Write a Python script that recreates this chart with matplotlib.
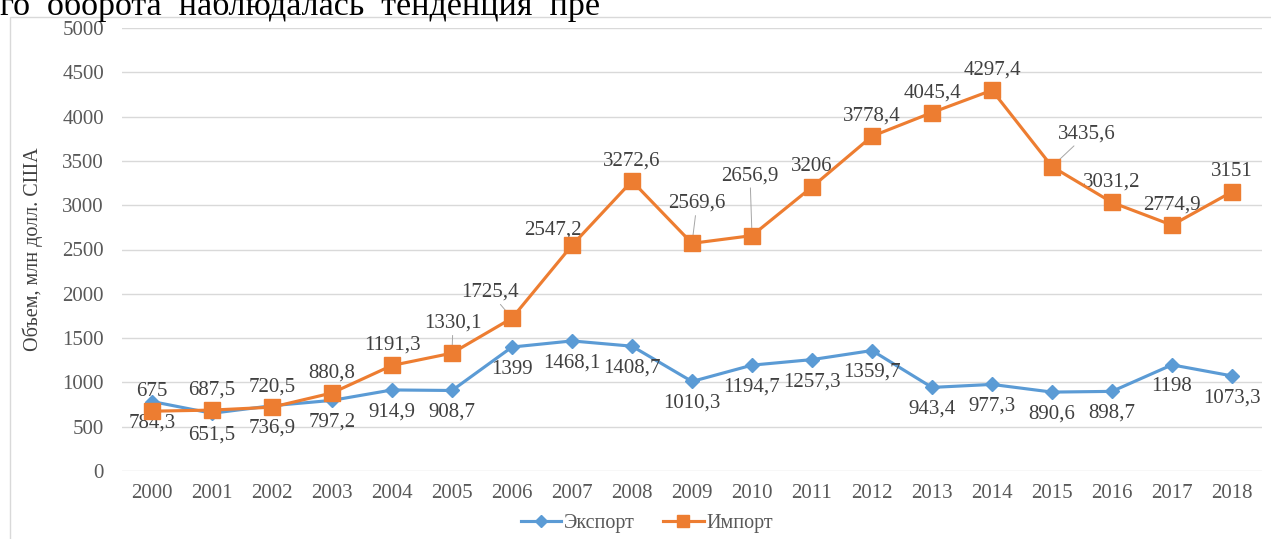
import matplotlib
matplotlib.use("Agg")
import matplotlib.pyplot as plt
from matplotlib.patches import Rectangle

plt.rcParams['font.family'] = ['Liberation Serif', 'DejaVu Serif']

years = ['2000', '2001', '2002', '2003', '2004', '2005', '2006', '2007', '2008', '2009',
         '2010', '2011', '2012', '2013', '2014', '2015', '2016', '2017', '2018']
export_vals = [784.3, 651.5, 736.9, 797.2, 914.9, 908.7, 1399, 1468.1, 1408.7, 1010.3,
               1194.7, 1257.3, 1359.7, 943.4, 977.3, 890.6, 898.7, 1198, 1073.3]
import_vals = [675, 687.5, 720.5, 880.8, 1191.3, 1330.1, 1725.4, 2547.2, 3272.6, 2569.6,
               2656.9, 3206, 3778.4, 4045.4, 4297.4, 3435.6, 3031.2, 2774.9, 3151]
series_names = ['Экспорт', 'Импорт']
y_ticks = [0, 500, 1000, 1500, 2000, 2500, 3000, 3500, 4000, 4500, 5000]

def fmt(v):
    s = ('%.1f' % v).rstrip('0').rstrip('.')
    return s.replace('.', ',')

W, H = 1271, 539
fig = plt.figure(figsize=(W / 100, H / 100), dpi=100)
fig.patch.set_facecolor('white')

# page text fragment at the top
fig.text(0.0, 1 - 15 / H, 'го  оборота  наблюдалась  тенденция  пре', fontsize=24.5,
         color='black', ha='left', va='baseline')

# chart border
fig.add_artist(Rectangle((10 / W, -0.05), 1.2, (H - 17) / H + 0.05,
                         transform=fig.transFigure, fill=False,
                         edgecolor='#d9d9d9', lw=1.0))

left, right = 122 / W, 1262 / W
bottom, top = (H - 471) / H, (H - 28) / H
ax = fig.add_axes([left, bottom, right - left, top - bottom])

x = list(range(len(years)))
blue = '#5B9BD5'
orange = '#ED7D31'
ax.plot(x, export_vals, color=blue, lw=2.25, marker='D', ms=7.5, label=series_names[0], zorder=3)
ax.plot(x, import_vals, color=orange, lw=2.25, marker='s', ms=11, label=series_names[1], zorder=4)

ax.set_xlim(-0.5, len(years) - 0.5)
ax.set_ylim(0, 5000)
ax.set_yticks(y_ticks)
ax.set_yticklabels([str(t) for t in y_ticks])
ax.set_xticks(x)
ax.set_xticklabels(years)
ax.grid(axis='y', color='#d9d9d9', lw=1)
ax.set_axisbelow(True)
for sp in ax.spines.values():
    sp.set_visible(False)
ax.tick_params(axis='both', length=0, labelsize=15, colors='#595959')
ax.tick_params(axis='y', pad=13)
ax.tick_params(axis='x', pad=9)
ax.set_ylabel('Объем, млн долл. США', fontsize=14.5, color='#404040')
ax.yaxis.set_label_coords(-(122 - 43) / (1262 - 122), 0.5)

lab_color = '#404040'
# export labels below the points
for i, v in enumerate(export_vals):
    ax.annotate(fmt(v), (i, v), xytext=(0, -22), textcoords='offset pixels',
                ha='center', va='center', fontsize=15, color=lab_color)

# import labels above; some moved with leader lines (pixel offsets)
special = {5: (1, 30, True), 6: (-22, 26, True), 7: (-19, 15, False),
           9: (5, 40, True), 10: (-2, 60, True), 15: (35, 33, True)}
for i, v in enumerate(import_vals):
    dx, dy, lead = special.get(i, (0, 20, False))
    kw = {}
    if lead:
        kw['arrowprops'] = dict(arrowstyle='-', color='#a6a6a6', lw=0.7,
                                shrinkA=0, shrinkB=2)
    ax.annotate(fmt(v), (i, v), xytext=(dx, dy), textcoords='offset pixels',
                ha='center', va='center', fontsize=15, color=lab_color, **kw)

leg = fig.legend(loc='center', bbox_to_anchor=(647 / W, 1 - 523 / H), ncol=2,
                 frameon=False, fontsize=14.5, handlelength=2.0, columnspacing=1.4,
                 handletextpad=0.15, markerscale=0.85)
for t in leg.get_texts():
    t.set_color('#595959')

fig.savefig('out.png', dpi=100, facecolor='white')
